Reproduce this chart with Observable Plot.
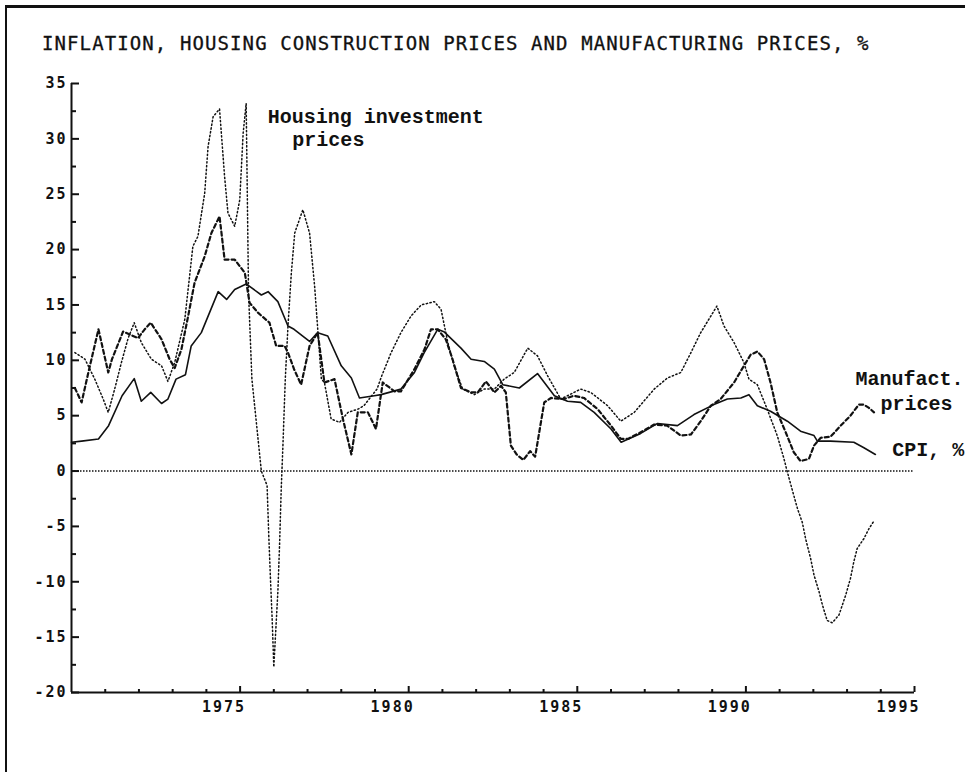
<!DOCTYPE html>
<html><head><meta charset="utf-8">
<script src="https://cdn.jsdelivr.net/npm/d3@7"></script>
<script src="https://cdn.jsdelivr.net/npm/@observablehq/plot@0.6"></script>
<style>
html,body{margin:0;padding:0;background:#fff;}
#page{position:relative;width:965px;height:772px;overflow:hidden;background:#fff;}
#frame{position:absolute;left:5px;top:5px;right:0;bottom:0;border-left:2px solid #111;border-top:3px solid #111;}
#title{position:absolute;left:42px;top:34px;font-family:"DejaVu Sans Mono",monospace;font-size:19px;line-height:19px;letter-spacing:1.1px;color:#111;white-space:nowrap;-webkit-text-stroke:0.3px #111;}
#chart{position:absolute;left:0;top:70px;}
.chart g[aria-label="x-axis tick label"] text,.chart g[aria-label="y-axis tick label"] text{letter-spacing:2px;}
</style></head><body>
<div id="page"><div id="frame"></div><div id="title"></div><div id="chart"></div></div>
<script>
const titleText = "INFLATION, HOUSING CONSTRUCTION PRICES AND MANUFACTURING PRICES, %";

const xDomain = [1970, 1995];
const yDomain = [-20, 35];
const xMajor = [1975, 1980, 1985, 1990, 1995];
const xMinor = [1971,1972,1973,1974,1976,1977,1978,1979,1981,1982,1983,1984,1986,1987,1988,1989,1991,1992,1993,1994];
const yMajor = [-20,-15,-10,-5,0,5,10,15,20,25,30,35];
const yMinor = [-17.5,-12.5,-7.5,-2.5,2.5,7.5,12.5,17.5,22.5,27.5,32.5];

// CPI, % (solid)
const cpi = [[1970.0,2.6],[1970.3,2.7],[1970.8,2.9],[1971.1,4.1],[1971.5,6.8],[1971.86,8.35],[1972.07,6.3],[1972.35,7.1],[1972.67,6.1],[1972.86,6.5],[1973.1,8.3],[1973.38,8.7],[1973.55,11.3],[1973.85,12.5],[1974.35,16.2],[1974.6,15.5],[1974.84,16.4],[1975.18,16.9],[1975.63,15.9],[1975.83,16.2],[1976.12,15.3],[1976.42,13.1],[1976.6,12.8],[1977.06,11.7],[1977.3,12.5],[1977.6,12.2],[1978.0,9.5],[1978.3,8.4],[1978.54,6.6],[1978.98,6.8],[1979.18,6.9],[1979.77,7.4],[1980.17,8.9],[1980.46,10.7],[1980.86,12.8],[1981.06,12.55],[1981.55,11.1],[1981.85,10.1],[1982.24,9.9],[1982.54,9.2],[1982.79,7.8],[1983.28,7.5],[1983.82,8.8],[1984.32,6.8],[1984.71,6.3],[1985.1,6.2],[1985.5,5.3],[1986.0,3.8],[1986.3,2.6],[1986.88,3.4],[1987.38,4.3],[1987.97,4.1],[1988.46,5.1],[1989.05,6.0],[1989.45,6.5],[1989.85,6.6],[1990.09,6.9],[1990.34,5.9],[1990.73,5.4],[1991.23,4.5],[1991.62,3.6],[1992.02,3.2],[1992.12,2.7],[1992.51,2.7],[1993.2,2.6],[1993.5,2.1],[1993.84,1.5]];

// Manufacturing prices (dashed)
const manufacturing = [[1970.1,7.5],[1970.3,6.2],[1970.5,8.9],[1970.8,12.8],[1971.09,8.9],[1971.2,10.1],[1971.53,12.6],[1971.97,12.0],[1972.17,12.8],[1972.35,13.4],[1972.67,11.9],[1972.91,10.1],[1973.06,9.3],[1973.26,11.0],[1973.46,14.0],[1973.65,17.0],[1973.95,19.4],[1974.15,21.5],[1974.39,23.0],[1974.54,19.1],[1974.84,19.1],[1975.14,17.9],[1975.28,15.2],[1975.53,14.3],[1975.87,13.4],[1976.07,11.3],[1976.32,11.3],[1976.42,10.7],[1976.6,9.2],[1976.81,7.8],[1977.06,11.3],[1977.3,12.5],[1977.5,8.0],[1977.8,8.3],[1978.05,4.7],[1978.3,1.5],[1978.49,5.3],[1978.79,5.3],[1979.03,3.8],[1979.23,8.0],[1979.58,7.2],[1979.77,7.2],[1980.17,9.2],[1980.47,11.0],[1980.66,12.8],[1980.86,12.8],[1981.1,11.9],[1981.3,10.1],[1981.55,7.5],[1981.85,7.1],[1982.05,7.1],[1982.29,8.1],[1982.54,7.1],[1982.74,7.7],[1982.88,7.1],[1983.03,2.3],[1983.2,1.5],[1983.4,1.0],[1983.6,1.8],[1983.75,1.3],[1984.02,6.2],[1984.22,6.6],[1984.6,6.5],[1984.9,6.8],[1985.2,6.6],[1985.6,5.6],[1986.0,4.1],[1986.29,2.9],[1986.5,2.9],[1986.88,3.5],[1987.28,4.2],[1987.67,4.1],[1988.07,3.2],[1988.37,3.3],[1988.66,4.5],[1988.96,5.9],[1989.25,6.5],[1989.65,8.0],[1989.94,9.5],[1990.14,10.5],[1990.34,10.8],[1990.54,10.1],[1990.73,8.0],[1990.93,5.3],[1991.18,3.5],[1991.42,1.7],[1991.62,0.9],[1991.87,1.1],[1992.02,2.3],[1992.22,3.0],[1992.51,3.1],[1992.81,4.1],[1993.1,5.0],[1993.35,6.0],[1993.5,6.0],[1993.65,5.7],[1993.8,5.3]];

// Housing investment prices (dotted)
const housing = [[1970.1,10.7],[1970.4,10.1],[1970.69,8.3],[1970.94,6.5],[1971.09,5.3],[1971.28,7.4],[1971.48,9.8],[1971.68,12.0],[1971.86,13.4],[1972.07,11.6],[1972.37,10.1],[1972.67,9.5],[1972.86,8.1],[1973.06,9.8],[1973.36,13.7],[1973.6,20.3],[1973.75,21.2],[1973.95,25.1],[1974.05,29.3],[1974.2,32.0],[1974.39,32.7],[1974.54,26.6],[1974.64,23.3],[1974.84,22.1],[1974.99,24.5],[1975.09,30.5],[1975.18,33.2],[1975.25,16.1],[1975.35,8.3],[1975.63,0],[1975.8,-1.3],[1975.85,-5.8],[1975.9,-9.7],[1975.95,-13.3],[1976.0,-17.7],[1976.04,-15.4],[1976.12,-10.9],[1976.17,-6.7],[1976.22,-1.6],[1976.27,2.3],[1976.34,8.3],[1976.42,13.1],[1976.52,17.9],[1976.62,21.5],[1976.86,23.6],[1977.06,21.5],[1977.21,16.7],[1977.31,12.5],[1977.41,8.3],[1977.5,8.0],[1977.7,4.7],[1977.95,4.4],[1978.2,5.3],[1978.5,5.6],[1978.67,5.9],[1979.06,7.4],[1979.2,8.6],[1979.48,10.7],[1979.77,12.5],[1980.07,14.0],[1980.37,15.0],[1980.76,15.3],[1980.96,14.6],[1981.16,11.6],[1981.35,9.5],[1981.6,7.4],[1981.95,6.9],[1982.24,7.4],[1982.54,7.4],[1982.83,8.3],[1983.13,8.9],[1983.53,11.1],[1983.82,10.4],[1984.12,8.6],[1984.51,6.5],[1985.1,7.4],[1985.4,7.1],[1985.9,5.9],[1986.29,4.5],[1986.69,5.3],[1987.28,7.4],[1987.67,8.4],[1988.07,8.9],[1988.37,10.7],[1988.66,12.5],[1988.96,14.0],[1989.14,14.9],[1989.35,13.1],[1989.65,11.6],[1989.94,9.8],[1990.09,8.3],[1990.34,7.8],[1990.63,5.6],[1990.93,3.2],[1991.13,1.1],[1991.23,-0.1],[1991.42,-2.2],[1991.53,-3.4],[1991.67,-4.6],[1991.77,-6.1],[1991.92,-7.9],[1992.02,-9.4],[1992.17,-10.9],[1992.27,-12.1],[1992.41,-13.5],[1992.56,-13.7],[1992.76,-13.0],[1992.96,-11.2],[1993.1,-9.7],[1993.2,-8.2],[1993.3,-7.0],[1993.5,-6.1],[1993.65,-5.2],[1993.8,-4.5]];

// Series labels (position in data units)
const seriesLabels = [
  {x: 1975.82, y: 31.4, text: "Housing investment"},
  {x: 1976.55, y: 29.4, text: "prices"},
  {x: 1993.25, y: 7.75, text: "Manufact."},
  {x: 1993.99, y: 5.5, text: "prices"},
  {x: 1994.34, y: 1.4, text: "CPI, %"}
];

document.getElementById("title").textContent = titleText;

const W = 965, H = 702;
const mL = 71, mR = 51, mT = 13, mB = 80;
const innerW = W - mL - mR, innerH = H - mT - mB;
const px = d => d[0], py = d => d[1];
const ink = "#111";

const chart = Plot.plot({
  width: W, height: H,
  marginLeft: mL, marginRight: mR, marginTop: mT, marginBottom: mB,
  className: "chart",
  style: {fontFamily: "'DejaVu Sans Mono', monospace", background: "transparent", color: ink},
  x: {domain: xDomain, label: null},
  y: {domain: yDomain, label: null},
  marks: [
    Plot.ruleY([0], {stroke: ink, strokeWidth: 1.6, strokeDasharray: "1.5,1.5"}),
    Plot.ruleX([xDomain[0]], {y1: yDomain[0], y2: yDomain[1], stroke: ink, strokeWidth: 2}),
    Plot.ruleY([yDomain[0]], {stroke: ink, strokeWidth: 2}),
    Plot.tickY(yMajor, {y: d => d, insetRight: innerW - 8, stroke: ink, strokeWidth: 2}),
    Plot.tickY(yMinor, {y: d => d, insetRight: innerW - 5, stroke: ink, strokeWidth: 2}),
    Plot.tickX(xMajor, {x: d => d, insetTop: innerH - 6, stroke: ink, strokeWidth: 2}),
    Plot.tickX(xMinor, {x: d => d, insetTop: innerH - 3, stroke: ink, strokeWidth: 2}),
    Plot.axisY({ticks: yMajor, tickSize: 0, tickPadding: 4, fontSize: 15, fontWeight: "bold", tickFormat: d => String(d)}),
    Plot.axisX({ticks: xMajor, tickSize: 0, tickPadding: 9, fontSize: 15, fontWeight: "bold", textAnchor: "end", dx: 6, tickFormat: d => String(d)}),
    Plot.line(housing, {x: px, y: py, stroke: ink, strokeWidth: 1.5, strokeDasharray: "1.3,2.5", curve: "linear"}),
    Plot.line(manufacturing, {x: px, y: py, stroke: ink, strokeWidth: 2.2, strokeDasharray: "4,3", curve: "linear"}),
    Plot.line(cpi, {x: px, y: py, stroke: ink, strokeWidth: 1.6, curve: "linear"}),
    Plot.text(seriesLabels, {x: "x", y: "y", text: "text", textAnchor: "start", lineAnchor: "bottom", fontFamily: "'Liberation Mono', monospace", fontWeight: "bold", fontSize: 20, fill: ink})
  ]
});
document.getElementById("chart").appendChild(chart);
</script>
</body></html>
